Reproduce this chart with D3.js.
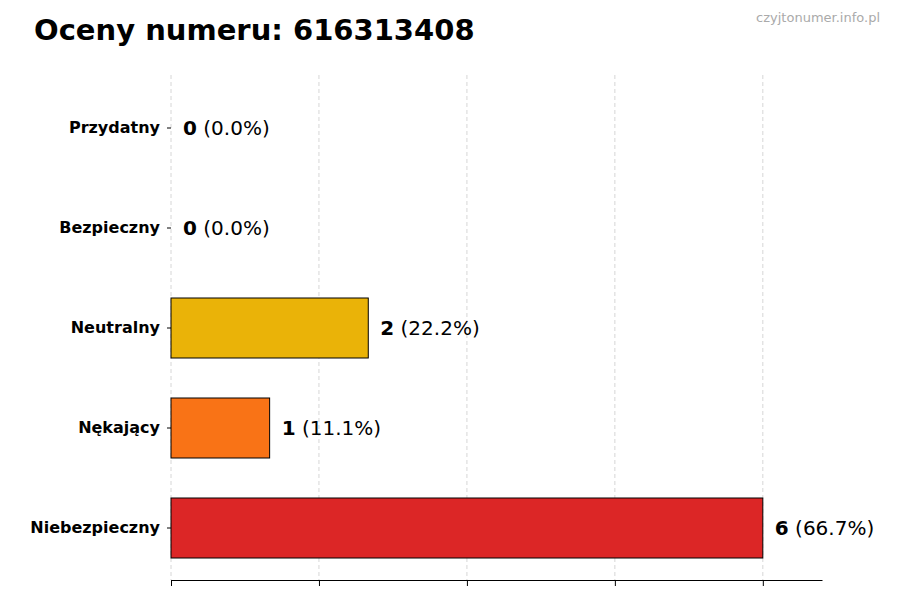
<!DOCTYPE html>
<html><head><meta charset="utf-8">
<script src="https://cdn.jsdelivr.net/npm/d3@7"></script>
<style>body{margin:0;background:#fff}</style></head>
<body><svg id="c" width="900" height="600"></svg>
<script>
const categories = ["Przydatny","Bezpieczny","Neutralny","Nękający","Niebezpieczny"];
const counts = [0,0,2,1,6];
const percents = ["0.0%","0.0%","22.2%","11.1%","66.7%"];
const colors = ["#22c55e","#3b82f6","#EAB308","#F97316","#DC2626"];
const xTicks = [0,1.5,3,4.5,6];

const svg = d3.select("#c");
const font = "DejaVu Sans, sans-serif";
const x = d3.scaleLinear().domain([0,6.6]).range([171,822]);
const y = d3.scaleBand().domain(categories).range([78,578]).paddingInner(0.4).paddingOuter(0.2);

svg.append("g").selectAll("line").data(xTicks).join("line")
 .attr("x1",d=>x(d)).attr("x2",d=>x(d)).attr("y1",75).attr("y2",580)
 .attr("stroke","#ccc").attr("stroke-dasharray","4,3").attr("stroke-width",0.8);

svg.append("g").selectAll("rect").data(categories).join("rect")
 .attr("x",x(0)).attr("y",d=>y(d)).attr("height",y.bandwidth())
 .attr("width",(d,i)=>x(counts[i])-x(0)).attr("fill",(d,i)=>colors[i])
 .attr("stroke","#000").attr("stroke-width",1);

const lab = svg.append("g").selectAll("text").data(categories).join("text")
 .attr("x",(d,i)=>x(counts[i])+12).attr("y",d=>y(d)+y.bandwidth()/2).attr("dy","0.35em")
 .attr("font-family",font).attr("font-size",20);
lab.append("tspan").attr("font-weight","bold").text((d,i)=>counts[i]);
lab.append("tspan").text((d,i)=>" ("+percents[i]+")");

const xa = svg.append("g").attr("transform","translate(0,580)")
 .call(d3.axisBottom(x).tickValues(xTicks).tickFormat("").tickSizeOuter(0));
xa.select(".domain").attr("stroke","#000");

const ya = svg.append("g").attr("transform","translate(171,0)")
 .call(d3.axisLeft(y).tickSizeOuter(0).tickSize(4).tickPadding(7));
ya.select(".domain").remove();
ya.selectAll("text").attr("font-family",font).attr("font-size",16).attr("font-weight","bold").attr("fill","#000");

svg.append("text").attr("x",34).attr("y",40).attr("font-family",font).attr("font-size",29)
 .attr("font-weight","bold").text("Oceny numeru: 616313408");
svg.append("text").attr("x",880).attr("y",22).attr("text-anchor","end").attr("font-family",font)
 .attr("font-size",13).attr("fill","#aaa").text("czyjtonumer.info.pl");
</script></body></html>
